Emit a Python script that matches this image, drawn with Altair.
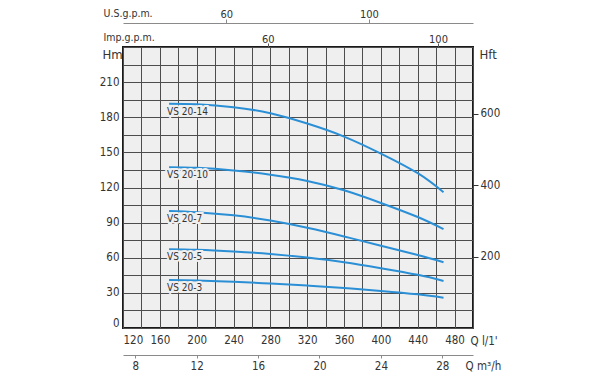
import altair as alt
import pandas as pd

# ---- data ----
q_lmin = [170, 200, 240, 280, 320, 360, 400, 440, 468]
vs_20_14 = [191.5, 191.0, 188.6, 183.4, 174.6, 163.5, 149.0, 132.2, 116.0]
vs_20_10 = [137.4, 136.8, 134.6, 130.9, 125.6, 117.6, 106.8, 94.8, 84.5]
vs_20_7 = [100.0, 98.9, 96.2, 91.8, 85.6, 78.2, 70.3, 62.4, 56.2]
vs_20_5 = [67.3, 66.8, 65.4, 63.3, 60.2, 56.2, 51.1, 45.4, 40.2]
vs_20_3 = [41.0, 40.6, 39.5, 38.0, 36.2, 34.1, 31.7, 28.8, 25.9]
pumps = ["VS 20-14", "VS 20-10", "VS 20-7", "VS 20-5", "VS 20-3"]
series = [vs_20_14, vs_20_10, vs_20_7, vs_20_5, vs_20_3]

x_grid = list(range(120, 501, 20))
x_labels = list(range(120, 481, 40))
y_grid = list(range(0, 241, 15))
y_labels = list(range(0, 211, 30))
hft_labels = [200, 400, 600]
m3h_labels = [8, 12, 16, 20, 24, 28]
imp_labels = [60, 100]
us_labels = [60, 100]

IMP_LMIN = 4.62   # l/min per Imp. gpm as drawn on the sheet
US_LMIN = 3.87    # l/min per US gpm as drawn on the sheet
M3H_PER_LMIN = 0.06
M_TO_FT = 3.28084

rows = []
for name, vals in zip(pumps, series):
    for qv, hv in zip(q_lmin, vals):
        rows.append({"pump": name, "Q": qv, "H": hv})
df = pd.DataFrame(rows)
starts = pd.DataFrame({"pump": pumps, "Q": [q_lmin[0]] * len(pumps),
                       "H": [s[0] for s in series]})
starts["Hft"] = starts["H"] * M_TO_FT

FONT = "DejaVu Sans Condensed, Liberation Sans Narrow, Roboto, sans-serif"
BLUE = "#2b8fd6"
BG = "#efefef"
TXT = "#333333"
LS = 11.5

xs = alt.Scale(domain=[120, 500], nice=False, zero=False)
ys = alt.Scale(domain=[0, 240], nice=False, zero=True)

curves = alt.Chart(df).mark_line(strokeWidth=2, interpolate="natural", color=BLUE).encode(
    x=alt.X("Q:Q", scale=xs, axis=alt.Axis(
        orient="bottom", values=x_grid,
        labelExpr=f"indexof({x_labels}, datum.value) >= 0 ? datum.label : ''",
        grid=True, domain=False, ticks=False, labelPadding=6, labelFlush=True,
        title="Q  l/1'", titleX=347, titleY=13, titleAlign="left",
        titleBaseline="middle", titleFontSize=LS)),
    y=alt.Y("H:Q", scale=ys, axis=alt.Axis(
        orient="left", values=y_grid,
        labelExpr=f"indexof({y_labels}, datum.value) >= 0 ? datum.label : ''",
        grid=True, domain=False, ticks=False, labelPadding=4, labelFlush=True,
        title="Hm", titleAngle=0, titleX=-21, titleY=7, titleAlign="left",
        titleBaseline="middle", titleFontSize=13)),
    detail="pump:N",
)

lab_bg = alt.Chart(starts).mark_text(
    align="left", baseline="middle", dx=-2, dy=8, fontSize=10, font=FONT,
    color=BG, stroke=BG, strokeWidth=4,
).encode(
    x=alt.X("Q:Q", scale=xs, axis=None),
    y=alt.Y("H:Q", scale=ys, axis=None),
    text="pump:N",
)
lab = alt.Chart(starts).mark_text(
    align="left", baseline="middle", dx=-2, dy=8, fontSize=10, font=FONT, color=TXT,
).encode(
    x=alt.X("Q:Q", scale=xs, axis=None),
    y=alt.Y("H:Q", scale=ys, axis=None),
    text="pump:N",
)

ghost = alt.Chart(starts).mark_point(opacity=0)

axis_m3h = ghost.encode(x=alt.X("Q:Q", scale=xs, axis=alt.Axis(
    orient="bottom", offset=27, values=[v / M3H_PER_LMIN for v in m3h_labels],
    labelExpr=f"round(datum.value * {M3H_PER_LMIN})",
    grid=False, domain=True, domainColor="#8a8a8a", domainWidth=1,
    ticks=True, tickSize=3, tickColor="#8a8a8a", labelPadding=2,
    title="Q  m³/h", titleX=342, titleY=11, titleAlign="left",
    titleBaseline="middle", titleFontSize=LS)))

axis_imp = ghost.encode(x=alt.X("Q:Q", scale=xs, axis=alt.Axis(
    orient="top", offset=0, values=[v * IMP_LMIN for v in imp_labels],
    labelExpr=f"round(datum.value / {IMP_LMIN})",
    grid=False, domain=False, ticks=True, tickSize=4, tickColor="#555555",
    labelPadding=1, labelBaseline="alphabetic", labelFontSize=11,
    title="Imp.g.p.m.", titleX=-20, titleY=-7, titleAlign="left",
    titleBaseline="alphabetic", titleFontSize=10.5)))

axis_us = ghost.encode(x=alt.X("Q:Q", scale=xs, axis=alt.Axis(
    orient="top", offset=24, values=[v * US_LMIN for v in us_labels],
    labelExpr=f"round(datum.value / {US_LMIN})",
    grid=False, domain=True, domainColor="#8a8a8a", domainWidth=1,
    ticks=True, tickSize=4, tickColor="#8a8a8a",
    labelPadding=2, labelBaseline="alphabetic", labelFontSize=11,
    title="U.S.g.p.m.", titleX=-20, titleY=-7, titleAlign="left",
    titleBaseline="alphabetic", titleFontSize=10.5)))

axis_ft = ghost.encode(y=alt.Y("Hft:Q", scale=alt.Scale(domain=[0, 240 * M_TO_FT], nice=False),
    axis=alt.Axis(
        orient="right", values=hft_labels, grid=False, domain=False,
        ticks=True, tickSize=5, tickColor="#333333", labelPadding=2,
        title="Hft", titleAngle=0, titleX=6, titleY=7, titleAlign="left",
        titleBaseline="middle", titleFontSize=13)))

chart = alt.layer(curves, lab_bg, lab, axis_m3h, axis_imp, axis_us, axis_ft).resolve_scale(
    y="independent"
).resolve_axis(
    x="independent", y="independent"
).properties(
    width=350, height=281,
    autosize=alt.AutoSizeParams(type="none"),
    padding={"left": 115, "top": 39, "right": 110, "bottom": 50},
    background="white",
).configure_view(
    fill=BG, stroke="#1a1a1a", strokeWidth=2,
).configure_axis(
    labelFont=FONT, titleFont=FONT, labelFontSize=LS, labelColor=TXT,
    titleColor=TXT, titleFontWeight="normal", gridColor="#4d4d4d", gridWidth=1,
    gridOpacity=1,
)

chart.save("out.html", embed_options={"renderer": "svg", "actions": False})
